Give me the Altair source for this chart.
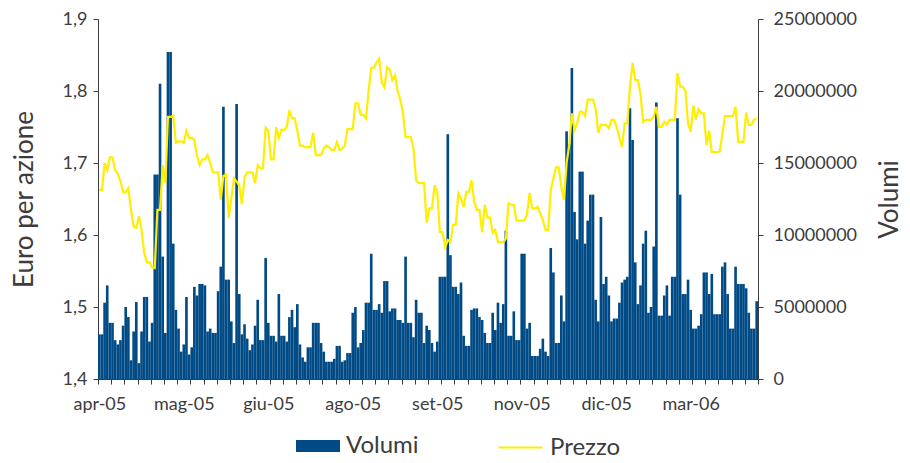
import altair as alt
import pandas as pd

# Volumes (millions) per trading day
volumes_m = [
    3.1, 3.1, 5.3, 6.5, 3.9, 3.9, 2.7, 2.4, 2.7, 3.7,
    5.0, 4.3, 1.3, 3.3, 5.35, 1.1, 3.3, 5.7, 5.7, 2.6,
    3.9, 14.2, 14.2, 20.5, 8.5, 3.2, 22.7, 22.7, 9.4, 4.8,
    3.5, 1.9, 2.4, 5.7, 1.7, 2.2, 6.4, 5.8, 6.6, 6.6,
    6.5, 3.3, 3.5, 3.2, 3.2, 6.1, 7.8, 18.9, 6.9, 6.9,
    4.0, 2.5, 19.1, 5.9, 3.1, 3.8, 2.8, 2.0, 2.4, 3.7,
    5.5, 2.7, 2.7, 8.4, 3.9, 3.0, 3.0, 2.6, 5.9, 3.0,
    3.0, 2.6, 4.3, 4.8, 3.6, 5.2, 2.4, 1.5, 1.2, 2.2,
    2.2, 3.9, 3.9, 3.9, 2.5, 1.9, 1.2, 1.2, 1.2, 1.4,
    2.3, 2.3, 1.2, 1.3, 1.8, 1.8, 4.6, 5.0, 2.2, 2.5,
    3.4, 5.3, 5.3, 8.7, 4.8, 4.8, 5.2, 4.6, 6.8, 6.8,
    4.7, 4.9, 4.9, 4.1, 4.1, 3.9, 8.5, 3.9, 3.9, 2.9,
    5.5, 4.6, 4.6, 2.5, 3.7, 3.4, 2.5, 1.9, 2.6, 7.1,
    7.1, 7.1, 17.0, 8.6, 6.4, 6.4, 5.9, 6.7, 3.0, 2.3,
    2.3, 4.8, 4.9, 4.9, 4.3, 4.1, 3.2, 2.5, 2.5, 4.6,
    3.4, 5.3, 3.9, 5.2, 10.3, 3.0, 3.0, 4.7, 2.7, 2.7,
    8.7, 8.7, 3.5, 3.9, 1.6, 1.6, 1.6, 2.1, 2.8, 1.9,
    1.6, 9.1, 7.4, 2.5, 2.5, 5.8, 4.0, 17.2, 16.3, 21.6,
    11.6, 9.7, 14.4, 14.4, 9.4, 11.0, 12.8, 12.8, 5.5, 4.0,
    11.25, 6.6, 7.1, 5.8, 4.0, 4.2, 4.2, 5.3, 6.7, 6.9,
    7.1, 18.8, 16.6, 8.1, 5.2, 6.5, 9.4, 10.3, 4.6, 5.0,
    9.2, 19.2, 4.4, 4.4, 5.8, 6.5, 4.4, 7.1, 7.1, 18.1,
    12.8, 5.9, 5.9, 6.9, 4.8, 3.5, 3.5, 3.7, 4.5, 7.4,
    7.4, 5.9, 7.3, 4.5, 4.5, 4.5, 7.8, 8.1, 5.9, 3.5,
    3.5, 7.8, 6.6, 6.6, 6.6, 6.3, 4.6, 3.5, 3.5, 5.4,
]

# Price (euro per share) per trading day
prices = [
    1.663, 1.662, 1.700, 1.690, 1.708, 1.708, 1.690, 1.685, 1.675, 1.660,
    1.660, 1.665, 1.635, 1.612, 1.610, 1.626, 1.607, 1.575, 1.562, 1.562,
    1.555, 1.554, 1.635, 1.635, 1.697, 1.672, 1.764, 1.764, 1.766, 1.728,
    1.730, 1.730, 1.728, 1.745, 1.735, 1.735, 1.732, 1.710, 1.697, 1.705,
    1.705, 1.711, 1.700, 1.687, 1.687, 1.687, 1.649, 1.682, 1.684, 1.624,
    1.650, 1.679, 1.674, 1.669, 1.643, 1.680, 1.687, 1.687, 1.687, 1.672,
    1.697, 1.693, 1.693, 1.749, 1.745, 1.705, 1.705, 1.750, 1.735, 1.746,
    1.746, 1.750, 1.773, 1.762, 1.762, 1.745, 1.724, 1.724, 1.722, 1.722,
    1.722, 1.742, 1.711, 1.711, 1.711, 1.720, 1.724, 1.722, 1.718, 1.718,
    1.729, 1.718, 1.720, 1.724, 1.747, 1.747, 1.747, 1.783, 1.783, 1.767,
    1.767, 1.762, 1.800, 1.832, 1.832, 1.840, 1.845, 1.812, 1.805, 1.833,
    1.830, 1.815, 1.822, 1.800, 1.788, 1.770, 1.736, 1.736, 1.736, 1.720,
    1.676, 1.672, 1.672, 1.672, 1.617, 1.637, 1.637, 1.669, 1.660, 1.604,
    1.604, 1.583, 1.593, 1.590, 1.614, 1.614, 1.658, 1.650, 1.639, 1.660,
    1.660, 1.676, 1.646, 1.635, 1.635, 1.604, 1.642, 1.624, 1.624, 1.603,
    1.607, 1.590, 1.590, 1.590, 1.595, 1.644, 1.642, 1.642, 1.620, 1.620,
    1.620, 1.620, 1.629, 1.658, 1.637, 1.637, 1.639, 1.630, 1.621, 1.607,
    1.607, 1.662, 1.679, 1.694, 1.694, 1.667, 1.649, 1.700, 1.725, 1.769,
    1.746, 1.755, 1.771, 1.771, 1.765, 1.788, 1.788, 1.788, 1.775, 1.742,
    1.753, 1.753, 1.753, 1.748, 1.760, 1.760, 1.750, 1.735, 1.722, 1.755,
    1.755, 1.806, 1.839, 1.815, 1.815, 1.795, 1.757, 1.760, 1.760, 1.760,
    1.765, 1.778, 1.750, 1.750, 1.757, 1.753, 1.760, 1.760, 1.760, 1.825,
    1.806, 1.806, 1.800, 1.755, 1.743, 1.780, 1.760, 1.775, 1.769, 1.769,
    1.725, 1.745, 1.715, 1.715, 1.715, 1.716, 1.740, 1.765, 1.765, 1.765,
    1.765, 1.778, 1.729, 1.729, 1.729, 1.770, 1.753, 1.753, 1.760, 1.762,
]

month_labels = ["apr-05", "mag-05", "giu-05", "ago-05", "set-05", "nov-05", "dic-05", "mar-06"]
month_label_days = [0, 32, 64, 96, 128, 160, 192, 224]

price_ticks = [1.4, 1.5, 1.6, 1.7, 1.8, 1.9]
volume_ticks = [0, 5000000, 10000000, 15000000, 20000000, 25000000]

BLUE = "#004a85"
YELLOW = "#ffee00"
TEXT = "#3c3c3c"
AXIS = "#3c3c3c"
FONT = "Lato"

n = len(prices)
df = pd.DataFrame({
    "day": list(range(n)),
    "day_end": [k + 1 for k in range(n)],
    "day_mid": [k + 0.5 for k in range(n)],
    "volume": [v * 1e6 for v in volumes_m],
    "price": prices,
    "s_bar": ["Volumi"] * n,
    "s_line": ["Prezzo"] * n,
})

xscale = alt.Scale(domain=[0, n], nice=False, zero=False)

label_vals = [d + 0.5 for d in month_label_days]
label_map = "{" + ",".join(f"'{v}':'{t}'" for v, t in zip(label_vals, month_labels)) + "}"

bars = alt.Chart(df).mark_bar(stroke=None).encode(
    x=alt.X("day:Q", scale=xscale,
            axis=alt.Axis(orient="bottom", values=list(range(0, n + 1, 5)), labels=False,
                          tickSize=5, tickColor=AXIS, domainColor=AXIS, grid=False, title=None)),
    x2="day_end:Q",
    y=alt.Y("volume:Q",
            scale=alt.Scale(domain=[0, 25000000], nice=False),
            axis=alt.Axis(orient="right", values=volume_ticks, format="d", grid=False,
                          tickSize=5, tickColor=AXIS, domainColor=AXIS,
                          labelPadding=10, labelFontSize=18, labelColor=TEXT, labelFont=FONT,
                          title="Volumi", titleAngle=270, titleFontSize=26, titleFont=FONT,
                          titleFontWeight="normal", titleColor=TEXT, titlePadding=46)),
    y2=alt.datum(0),
    color=alt.Color("s_bar:N", title=None,
                    scale=alt.Scale(domain=["Volumi"], range=[BLUE]),
                    legend=alt.Legend(orient="none", legendX=198, legendY=405,
                                      symbolType="M-1,-0.27H1V0.27H-1Z", symbolSize=1936,
                                      symbolStrokeWidth=0, labelFontSize=24, labelFont=FONT,
                                      labelColor=TEXT, labelOffset=6, labelLimit=300, padding=0)),
)

line = alt.Chart(df).mark_line(strokeWidth=2.2).encode(
    x=alt.X("day_mid:Q", scale=xscale,
            axis=alt.Axis(orient="bottom", values=label_vals, ticks=False, domain=False, grid=False,
                          labelExpr=f"{label_map}[''+datum.value]",
                          labelFontSize=18, labelColor=TEXT, labelFont=FONT,
                          labelPadding=16, title=None)),
    y=alt.Y("price:Q",
            scale=alt.Scale(domain=[1.4, 1.9], nice=False, zero=False),
            axis=alt.Axis(orient="left", values=price_ticks, grid=False,
                          labelExpr="replace(format(datum.value, '.1f'), '.', ',')",
                          tickSize=5, tickColor=AXIS, domainColor=AXIS,
                          labelPadding=6, labelFontSize=18, labelColor=TEXT, labelFont=FONT,
                          title="Euro per azione", titleFontSize=26, titleFont=FONT,
                          titleFontWeight="normal", titleColor=TEXT, titlePadding=25)),
    stroke=alt.Stroke("s_line:N", title=None,
                      scale=alt.Scale(domain=["Prezzo"], range=[YELLOW]),
                      legend=alt.Legend(orient="none", legendX=399, legendY=405,
                                        symbolType="stroke", symbolSize=1936,
                                        symbolStrokeWidth=2.2, labelFontSize=24, labelFont=FONT,
                                        labelColor=TEXT, labelOffset=6, labelLimit=300, padding=0)),
)

chart = alt.layer(bars, line).resolve_scale(
    y="independent", color="independent", stroke="independent"
).resolve_axis(x="independent").properties(
    width=660, height=360,
    autosize=alt.AutoSizeParams(type="none"),
    padding={"left": 90, "top": 11, "right": 144, "bottom": 76},
).configure_view(stroke=None)

chart.save("out.html", embed_options={"renderer": "svg", "actions": False})
